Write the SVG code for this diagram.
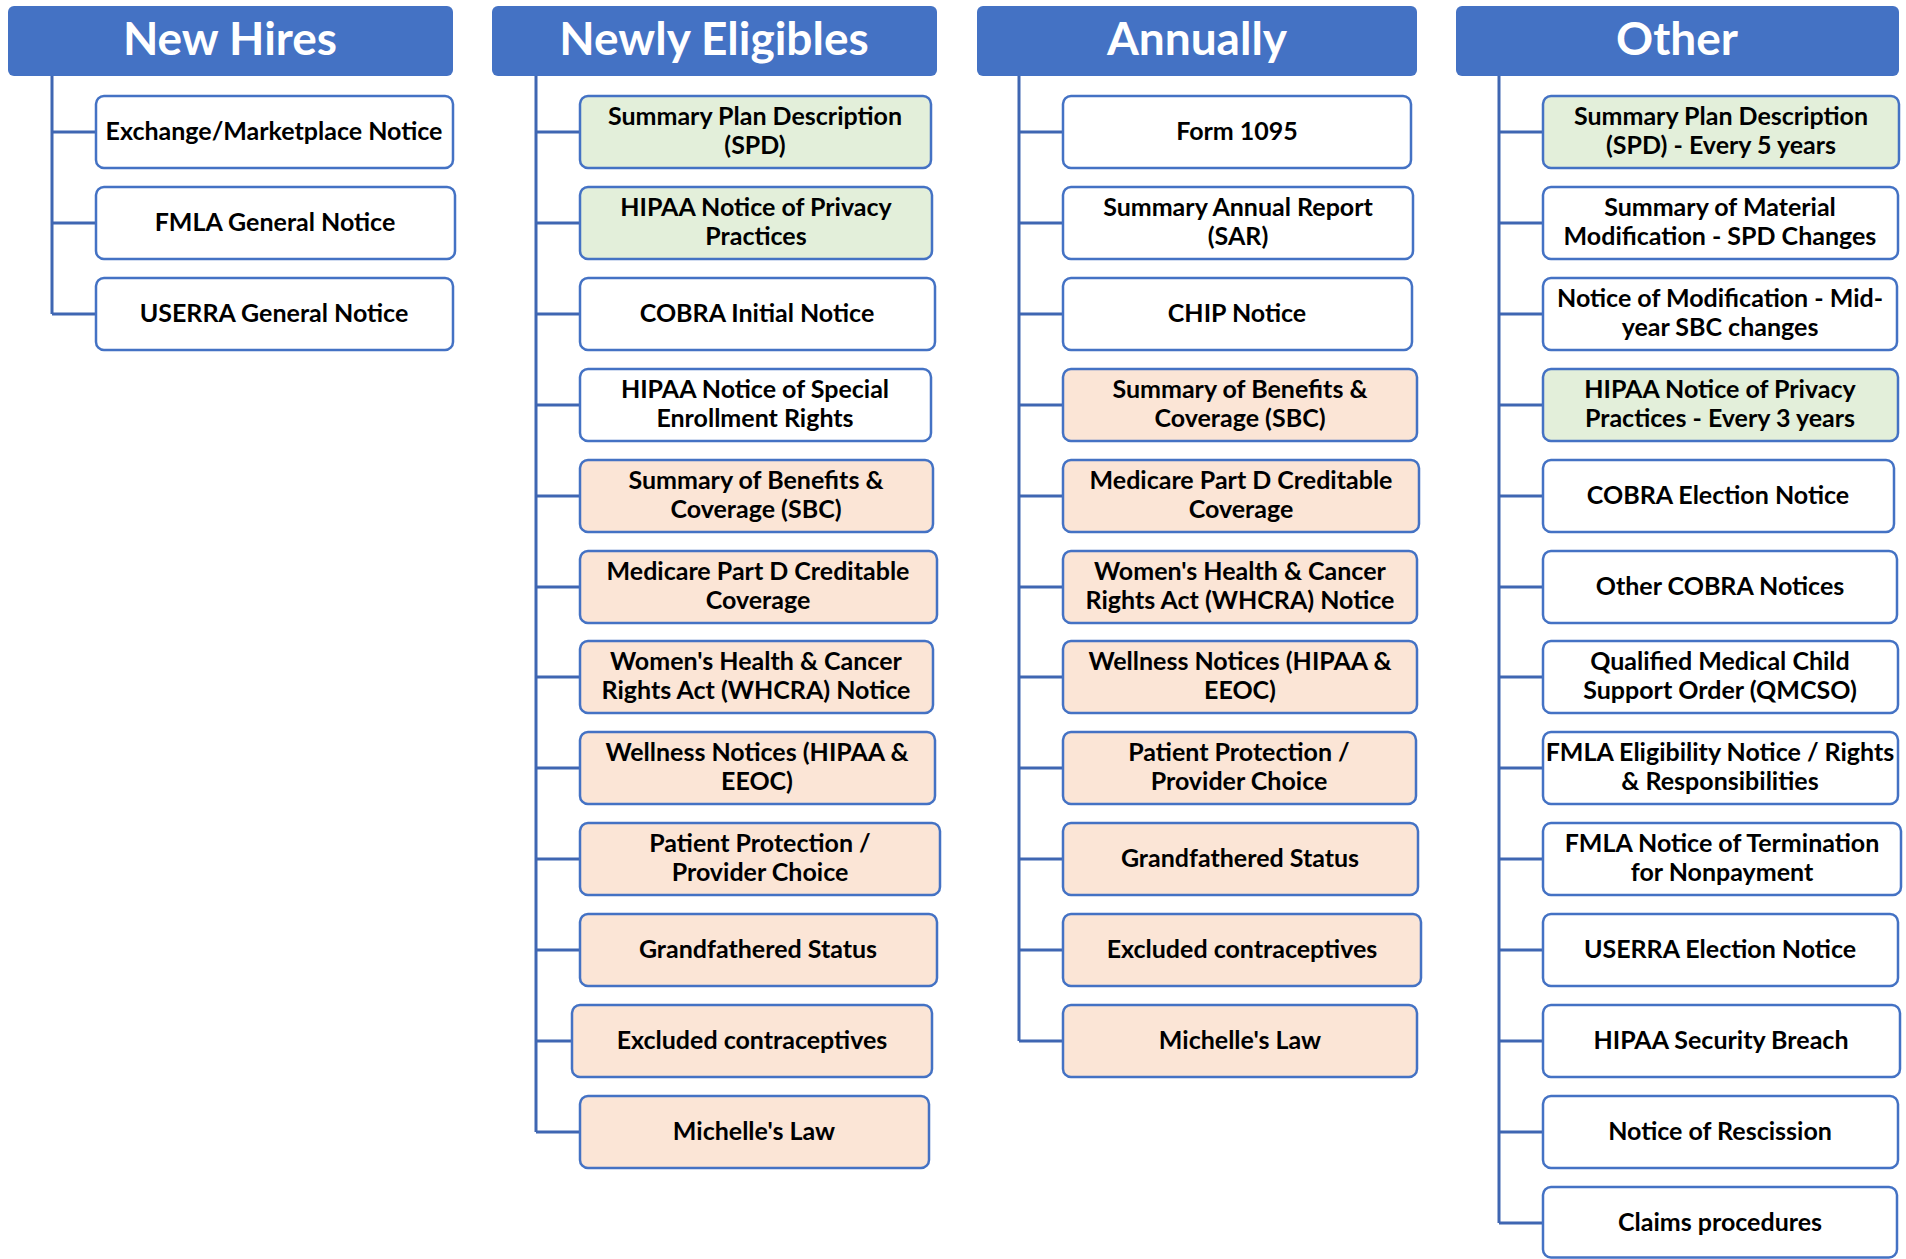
<svg xmlns="http://www.w3.org/2000/svg" width="1906" height="1259" viewBox="0 0 1906 1259">
<style>
.hdr{fill:#4472C4}
.ht{fill:#fff;font-family:Lato,"Liberation Sans",sans-serif;font-weight:700;font-size:46px;text-anchor:middle}
.b{stroke:#4472C4;stroke-width:2.5;fill:#fff}
.g{fill:#E3EFDA}
.p{fill:#FBE5D6}
.t{fill:#000;font-family:Lato,"Liberation Sans",sans-serif;font-weight:700;font-size:25px;text-anchor:middle}
.c{stroke:#3F66B2;stroke-width:3;fill:none}
</style>
<rect width="1906" height="1259" fill="#fff"/>
<g id="connectors" class="c">
<path d="M52 76V314M52 132H96M52 223H96M52 314H96"/>
<path d="M536 76V1132M536 132H580M536 223H580M536 314H580M536 405H580M536 496H580M536 587H580M536 677H580M536 768H580M536 859H580M536 950H580M536 1041H572M536 1132H580"/>
<path d="M1019 76V1041M1019 132H1063M1019 223H1063M1019 314H1063M1019 405H1063M1019 496H1063M1019 587H1063M1019 677H1063M1019 768H1063M1019 859H1063M1019 950H1063M1019 1041H1063"/>
<path d="M1499 76V1223M1499 132H1543M1499 223H1543M1499 314H1543M1499 405H1543M1499 496H1543M1499 587H1543M1499 677H1543M1499 768H1543M1499 859H1543M1499 950H1543M1499 1041H1543M1499 1132H1543M1499 1223H1543"/>
</g>
<g id="h-newhires"><rect class="hdr" x="8" y="6" width="445" height="70" rx="6"/><text class="ht" x="230" y="55">New Hires</text></g>
<g id="h-newlyeligibles"><rect class="hdr" x="492" y="6" width="445" height="70" rx="6"/><text class="ht" x="714" y="55">Newly Eligibles</text></g>
<g id="h-annually"><rect class="hdr" x="977" y="6" width="440" height="70" rx="6"/><text class="ht" x="1197" y="55">Annually</text></g>
<g id="h-other"><rect class="hdr" x="1456" y="6" width="443" height="70" rx="6"/><text class="ht" x="1677" y="55">Other</text></g>

<g id="nh1"><rect class="b" x="96" y="96" width="357" height="72" rx="8"/><text class="t" x="274" y="140">Exchange/Marketplace Notice</text></g>
<g id="nh2"><rect class="b" x="96" y="187" width="359" height="72" rx="8"/><text class="t" x="275" y="231">FMLA General Notice</text></g>
<g id="nh3"><rect class="b" x="96" y="278" width="357" height="72" rx="8"/><text class="t" x="274" y="322">USERRA General Notice</text></g>

<g id="ne1"><rect class="b g" x="580" y="96" width="351" height="72" rx="8"/><text class="t" x="755" y="125">Summary Plan Description</text><text class="t" x="755" y="154">(SPD)</text></g>
<g id="ne2"><rect class="b g" x="580" y="187" width="352" height="72" rx="8"/><text class="t" x="756" y="216">HIPAA Notice of Privacy</text><text class="t" x="756" y="245">Practices</text></g>
<g id="ne3"><rect class="b" x="580" y="278" width="355" height="72" rx="8"/><text class="t" x="757" y="322">COBRA Initial Notice</text></g>
<g id="ne4"><rect class="b" x="580" y="369" width="351" height="72" rx="8"/><text class="t" x="755" y="398">HIPAA Notice of Special</text><text class="t" x="755" y="427">Enrollment Rights</text></g>
<g id="ne5"><rect class="b p" x="580" y="460" width="353" height="72" rx="8"/><text class="t" x="756" y="489">Summary of Benefits &amp;</text><text class="t" x="756" y="518">Coverage (SBC)</text></g>
<g id="ne6"><rect class="b p" x="580" y="551" width="357" height="72" rx="8"/><text class="t" x="758" y="580">Medicare Part D Creditable</text><text class="t" x="758" y="609">Coverage</text></g>
<g id="ne7"><rect class="b p" x="580" y="641" width="353" height="72" rx="8"/><text class="t" x="756" y="670">Women's Health &amp; Cancer</text><text class="t" x="756" y="699">Rights Act (WHCRA) Notice</text></g>
<g id="ne8"><rect class="b p" x="580" y="732" width="355" height="72" rx="8"/><text class="t" x="757" y="761">Wellness Notices (HIPAA &amp;</text><text class="t" x="757" y="790">EEOC)</text></g>
<g id="ne9"><rect class="b p" x="580" y="823" width="360" height="72" rx="8"/><text class="t" x="760" y="852">Patient Protection /</text><text class="t" x="760" y="881">Provider Choice</text></g>
<g id="ne10"><rect class="b p" x="580" y="914" width="357" height="72" rx="8"/><text class="t" x="758" y="958">Grandfathered Status</text></g>
<g id="ne11"><rect class="b p" x="572" y="1005" width="360" height="72" rx="8"/><text class="t" x="752" y="1049">Excluded contraceptives</text></g>
<g id="ne12"><rect class="b p" x="580" y="1096" width="349" height="72" rx="8"/><text class="t" x="754" y="1140">Michelle's Law</text></g>

<g id="an1"><rect class="b" x="1063" y="96" width="348" height="72" rx="8"/><text class="t" x="1237" y="140">Form 1095</text></g>
<g id="an2"><rect class="b" x="1063" y="187" width="350" height="72" rx="8"/><text class="t" x="1238" y="216">Summary Annual Report</text><text class="t" x="1238" y="245">(SAR)</text></g>
<g id="an3"><rect class="b" x="1063" y="278" width="349" height="72" rx="8"/><text class="t" x="1237" y="322">CHIP Notice</text></g>
<g id="an4"><rect class="b p" x="1063" y="369" width="354" height="72" rx="8"/><text class="t" x="1240" y="398">Summary of Benefits &amp;</text><text class="t" x="1240" y="427">Coverage (SBC)</text></g>
<g id="an5"><rect class="b p" x="1063" y="460" width="356" height="72" rx="8"/><text class="t" x="1241" y="489">Medicare Part D Creditable</text><text class="t" x="1241" y="518">Coverage</text></g>
<g id="an6"><rect class="b p" x="1063" y="551" width="354" height="72" rx="8"/><text class="t" x="1240" y="580">Women's Health &amp; Cancer</text><text class="t" x="1240" y="609">Rights Act (WHCRA) Notice</text></g>
<g id="an7"><rect class="b p" x="1063" y="641" width="354" height="72" rx="8"/><text class="t" x="1240" y="670">Wellness Notices (HIPAA &amp;</text><text class="t" x="1240" y="699">EEOC)</text></g>
<g id="an8"><rect class="b p" x="1063" y="732" width="353" height="72" rx="8"/><text class="t" x="1239" y="761">Patient Protection /</text><text class="t" x="1239" y="790">Provider Choice</text></g>
<g id="an9"><rect class="b p" x="1063" y="823" width="355" height="72" rx="8"/><text class="t" x="1240" y="867">Grandfathered Status</text></g>
<g id="an10"><rect class="b p" x="1063" y="914" width="358" height="72" rx="8"/><text class="t" x="1242" y="958">Excluded contraceptives</text></g>
<g id="an11"><rect class="b p" x="1063" y="1005" width="354" height="72" rx="8"/><text class="t" x="1240" y="1049">Michelle's Law</text></g>

<g id="ot1"><rect class="b g" x="1543" y="96" width="356" height="72" rx="8"/><text class="t" x="1721" y="125">Summary Plan Description</text><text class="t" x="1721" y="154">(SPD) - Every 5 years</text></g>
<g id="ot2"><rect class="b" x="1543" y="187" width="355" height="72" rx="8"/><text class="t" x="1720" y="216">Summary of Material</text><text class="t" x="1720" y="245">Modification - SPD Changes</text></g>
<g id="ot3"><rect class="b" x="1543" y="278" width="354" height="72" rx="8"/><text class="t" x="1720" y="307">Notice of Modification - Mid-</text><text class="t" x="1720" y="336">year SBC changes</text></g>
<g id="ot4"><rect class="b g" x="1543" y="369" width="355" height="72" rx="8"/><text class="t" x="1720" y="398">HIPAA Notice of Privacy</text><text class="t" x="1720" y="427">Practices - Every 3 years</text></g>
<g id="ot5"><rect class="b" x="1543" y="460" width="351" height="72" rx="8"/><text class="t" x="1718" y="504">COBRA Election Notice</text></g>
<g id="ot6"><rect class="b" x="1543" y="551" width="354" height="72" rx="8"/><text class="t" x="1720" y="595">Other COBRA Notices</text></g>
<g id="ot7"><rect class="b" x="1543" y="641" width="355" height="72" rx="8"/><text class="t" x="1720" y="670">Qualified Medical Child</text><text class="t" x="1720" y="699">Support Order (QMCSO)</text></g>
<g id="ot8"><rect class="b" x="1543" y="732" width="355" height="72" rx="8"/><text class="t" x="1720" y="761">FMLA Eligibility Notice / Rights</text><text class="t" x="1720" y="790">&amp; Responsibilities</text></g>
<g id="ot9"><rect class="b" x="1543" y="823" width="358" height="72" rx="8"/><text class="t" x="1722" y="852">FMLA Notice of Termination</text><text class="t" x="1722" y="881">for Nonpayment</text></g>
<g id="ot10"><rect class="b" x="1543" y="914" width="355" height="72" rx="8"/><text class="t" x="1720" y="958">USERRA Election Notice</text></g>
<g id="ot11"><rect class="b" x="1543" y="1005" width="357" height="72" rx="8"/><text class="t" x="1721" y="1049">HIPAA Security Breach</text></g>
<g id="ot12"><rect class="b" x="1543" y="1096" width="355" height="72" rx="8"/><text class="t" x="1720" y="1140">Notice of Rescission</text></g>
<g id="ot13"><rect class="b" x="1543" y="1187" width="354" height="70.5" rx="8"/><text class="t" x="1720" y="1231">Claims procedures</text></g>
</svg>
